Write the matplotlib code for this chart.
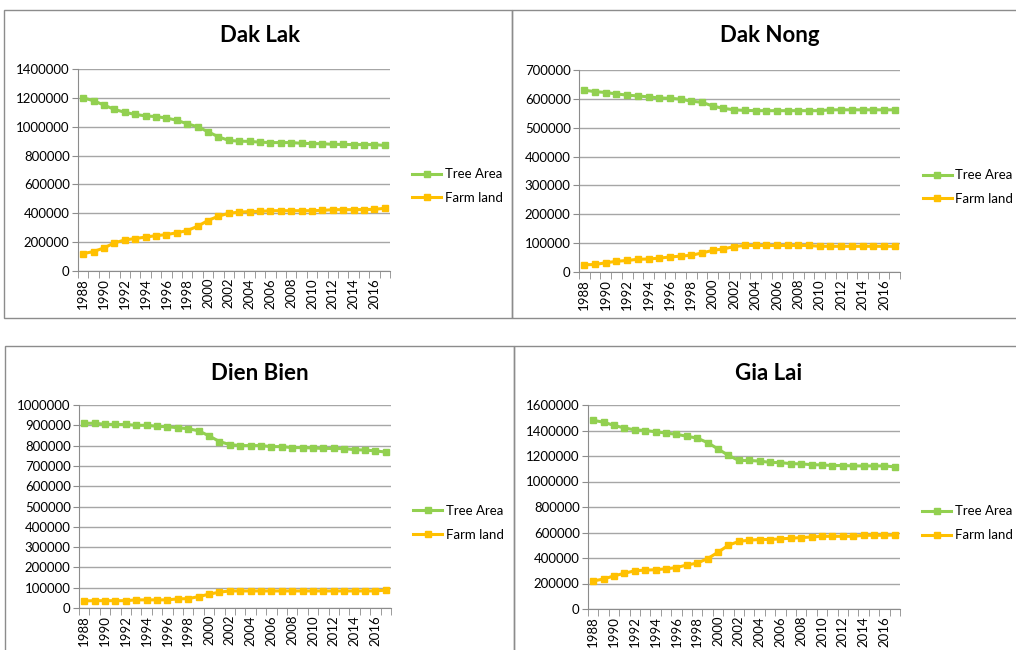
import matplotlib.pyplot as plt
from matplotlib.ticker import FixedLocator

plt.rcParams["font.family"] = ["Lato", "DejaVu Sans"]

years = list(range(1988, 2018))

# Dak Lak
daklak_tree = [1200000, 1180000, 1150000, 1120000, 1100000, 1085000, 1075000, 1070000, 1060000, 1045000,
               1020000, 1000000, 965000, 930000, 905000, 900000, 898000, 893000, 890000, 890000,
               890000, 885000, 883000, 882000, 878000, 877000, 876000, 876000, 876000, 870000]
daklak_farm = [120000, 135000, 160000, 195000, 215000, 225000, 235000, 245000, 252000, 265000,
               280000, 310000, 350000, 380000, 400000, 408000, 412000, 413000, 418000, 418000,
               418000, 418000, 418000, 420000, 425000, 425000, 425000, 426000, 427000, 435000]

# Dak Nong
daknong_tree = [630000, 625000, 622000, 617000, 613000, 610000, 607000, 603000, 602000, 599000,
                592000, 588000, 575000, 567000, 562000, 560000, 559000, 559000, 559000, 559000,
                559000, 559000, 559000, 562000, 562000, 562000, 562000, 562000, 562000, 562000]
daknong_farm = [25000, 26000, 32000, 37000, 40000, 44000, 45000, 48000, 52000, 55000,
                58000, 66000, 75000, 80000, 88000, 92000, 92000, 92000, 92000, 92000,
                92000, 92000, 89000, 89000, 89000, 89000, 89000, 89000, 89000, 89000]

# Dien Bien
dienbien_tree = [910000, 910000, 905000, 904000, 904000, 900000, 900000, 895000, 893000, 888000,
                 883000, 873000, 848000, 820000, 805000, 800000, 800000, 800000, 795000, 795000,
                 790000, 790000, 788000, 786000, 786000, 785000, 780000, 778000, 774000, 768000]
dienbien_farm = [35000, 36000, 36000, 36000, 36000, 40000, 40000, 40000, 40000, 45000,
                 46000, 56000, 68000, 78000, 84000, 84000, 84000, 84000, 84000, 84000,
                 84000, 84000, 84000, 84000, 84000, 84000, 84000, 84000, 84000, 88000]

# Gia Lai
gialai_tree = [1480000, 1465000, 1440000, 1420000, 1405000, 1400000, 1390000, 1380000, 1370000, 1355000,
               1340000, 1305000, 1255000, 1205000, 1165000, 1165000, 1160000, 1150000, 1148000, 1140000,
               1138000, 1132000, 1130000, 1125000, 1125000, 1122000, 1122000, 1122000, 1122000, 1115000]
gialai_farm = [220000, 235000, 260000, 280000, 300000, 305000, 308000, 315000, 325000, 345000,
               360000, 395000, 445000, 500000, 530000, 540000, 545000, 545000, 550000, 555000,
               560000, 565000, 570000, 570000, 570000, 570000, 578000, 578000, 578000, 580000]

GREEN = "#92D050"
ORANGE = "#FFC000"
GRID = "#A6A6A6"
BORDER = "#8C8C8C"

W, H = 1016, 650
fig = plt.figure(figsize=(W / 100, H / 100), dpi=100)

# (title, tree, farm, ymax, step, axes box in px: left, top, right, bottom, title center px)
panels = [
    ("Dak Lak", daklak_tree, daklak_farm, 1400000, 200000, (78, 69, 390, 271), (260, 36)),
    ("Dak Nong", daknong_tree, daknong_farm, 700000, 100000, (579, 70, 900, 272), (770, 36)),
    ("Dien Bien", dienbien_tree, dienbien_farm, 1000000, 100000, (79, 405, 391, 608), (260, 373)),
    ("Gia Lai", gialai_tree, gialai_farm, 1600000, 200000, (588, 405, 900, 609), (769, 373)),
]

# panel frames
for x0, y0, x1, y1 in [(4, 10, 512, 318), (512, 10, 1020, 318), (5, 346, 514, 660), (514, 346, 1020, 660)]:
    fig.add_artist(plt.Rectangle((x0 / W, 1 - y1 / H), (x1 - x0) / W, (y1 - y0) / H,
                                 transform=fig.transFigure, fill=False, edgecolor=BORDER, linewidth=1))

n = len(years)
xs = list(range(n))

for title, tree, farm, ymax, step, (l, t, r, b), (tx, ty) in panels:
    ax = fig.add_axes([l / W, 1 - b / H, (r - l) / W, (b - t) / H])
    ax.plot(xs, tree, color=GREEN, linewidth=2.2, marker="s", markersize=5, label="Tree Area")
    ax.plot(xs, farm, color=ORANGE, linewidth=2.2, marker="s", markersize=5, label="Farm land")

    ax.set_xlim(-0.5, n - 0.5)
    ax.set_ylim(0, ymax)
    ax.set_yticks(range(0, ymax + 1, step))
    ax.set_yticklabels([str(v) for v in range(0, ymax + 1, step)])
    ax.yaxis.grid(True, color=GRID, linewidth=1)
    ax.set_axisbelow(True)

    ax.set_xticks(xs[::2])
    ax.set_xticklabels([str(y) for y in years[::2]], rotation=90)
    ax.xaxis.set_minor_locator(FixedLocator([i - 0.5 for i in range(n + 1)]))
    ax.tick_params(axis="x", which="major", length=0, pad=5, labelsize=9.5)
    ax.tick_params(axis="x", which="minor", length=5, color=BORDER, direction="out")
    ax.tick_params(axis="y", length=4, color=BORDER, labelsize=9.5, pad=2)

    for s in ["top", "right"]:
        ax.spines[s].set_visible(False)
    for s in ["left", "bottom"]:
        ax.spines[s].set_color(BORDER)

    ax.legend(loc="center left", bbox_to_anchor=(1.055, 0.42), frameon=False, fontsize=9.5,
              handlelength=2.2, handletextpad=0.25, labelspacing=0.9, borderaxespad=0)

    fig.text(tx / W, 1 - ty / H, title, ha="center", va="center", fontsize=16, fontweight="bold")

fig.savefig("out.png", dpi=100)
